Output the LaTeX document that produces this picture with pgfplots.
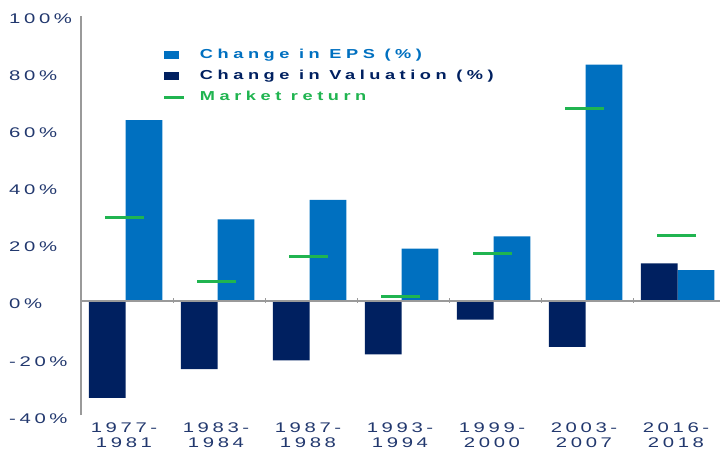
\documentclass[border=0pt]{standalone}
\usepackage{fontspec}
\setmainfont{Liberation Sans}
\newfontfamily\tickfont[FakeStretch=1.45,LetterSpace=26]{Liberation Sans}
\newfontfamily\legfont[FakeStretch=1.4,LetterSpace=35]{Liberation Sans Bold}
\usepackage{pgfplots}
\pgfplotsset{compat=1.18}
\definecolor{epsblue}{HTML}{0070C0}
\definecolor{valnavy}{HTML}{002060}
\definecolor{mktgreen}{HTML}{20B450}
\definecolor{ticknavy}{HTML}{22386E}
\definecolor{axgray}{HTML}{9A9A9A}
\begin{document}
\begin{tikzpicture}
\begin{axis}[
  at={(81pt,35pt)}, anchor=south west,
  scale only axis, width=644pt, height=399pt,
  xmin=-0.5, xmax=6.5, ymin=-40, ymax=100,
  axis lines*=left,
  x axis line style={draw=none},
  y axis line style={axgray, line width=1.5pt},
  xtick={0,1,2,3,4,5,6},
  xticklabels={{1977-\\1981},{1983-\\1984},{1987-\\1988},{1993-\\1994},{1999-\\2000},{2003-\\2007},{2016-\\2018}},
  xticklabel style={align=center, font=\tickfont\fontsize{14}{15}\selectfont, text=ticknavy, inner sep=0pt, yshift=-8pt, xshift=-3pt},
  ytick={-40,-20,0,20,40,60,80,100},
  yticklabels={-40\%,-20\%,0\%,20\%,40\%,60\%,80\%,100\%},
  yticklabel style={anchor=base west, inner sep=0pt, xshift=-72pt, yshift=-8pt, font=\tickfont\fontsize{14}{16}\selectfont, text=ticknavy},
  major tick length=0pt,
  tick style={draw=none},
  legend style={at={(0.127,0.919)}, anchor=north west, draw=none, fill=none, inner sep=0pt,
    font=\legfont\fontsize{13}{15}\selectfont, row sep=8pt,
    nodes={inner sep=0pt, text height=10pt, text depth=3pt},
    /tikz/every odd column/.append style={column sep=14pt}},
  legend cell align=left,
]
\addplot[ybar, bar width=0.4, bar shift=0.185, fill=epsblue, draw=none,
  legend image code/.code={\fill[epsblue] (0pt,-4pt) rectangle (15pt,4pt);}]
  coordinates {(0,63.5) (1,28.6) (2,35.5) (3,18.4) (4,22.7) (5,82.9) (6,10.8)};
\addlegendentry{\textcolor{epsblue}{Change in EPS (\%)}}
\addplot[ybar, bar width=0.4, bar shift=-0.215, fill=valnavy, draw=none,
  legend image code/.code={\fill[valnavy] (0pt,-4pt) rectangle (15pt,4pt);}]
  coordinates {(0,-34.0) (1,-23.9) (2,-20.8) (3,-18.7) (4,-6.5) (5,-16.1) (6,13.2)};
\addlegendentry{\textcolor{valnavy}{Change in Valuation (\%)}}
\addplot[forget plot, axgray, line width=1.5pt] coordinates {(-0.5,0) (6.5,0)};
\addplot[forget plot, only marks, mark=|, mark size=2.5pt, mark options={axgray, line width=1pt}]
  coordinates {(0.5,0) (1.5,0) (2.5,0) (3.5,0) (4.5,0) (5.5,0)};
\addplot[only marks, mark=-, mark size=19.5pt, mark options={draw=mktgreen, line width=3pt},
  legend image code/.code={\draw[mktgreen, line width=3pt] (0pt,0pt) -- (20pt,0pt);}]
  coordinates {(-0.025,29.3) (0.975,6.7) (1.975,15.6) (2.975,1.6) (3.975,16.8) (4.975,67.5) (5.975,22.9)};
\addlegendentry{\textcolor{mktgreen}{Market return}}
\end{axis}
\pgfresetboundingbox
\path[use as bounding box] (0pt,0pt) rectangle (720pt,450pt);
\end{tikzpicture}
\end{document}
